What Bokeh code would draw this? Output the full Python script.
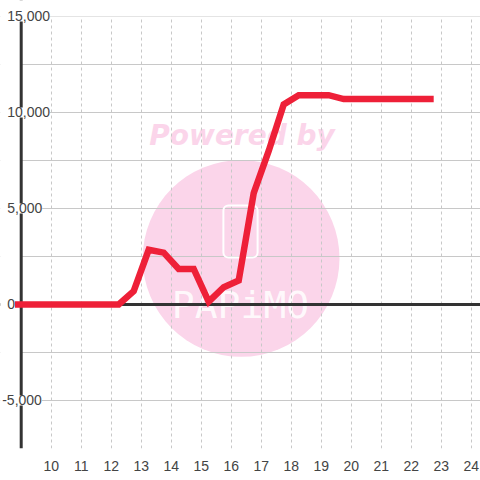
from bokeh.plotting import figure
from bokeh.models import Range1d, FixedTicker, Span, Label, BoxAnnotation
from bokeh.embed import file_html
from bokeh.resources import INLINE

# ---- data ----
hours = [8.75, 9.25, 9.75, 10.25, 10.75, 11.25, 11.75, 12.25, 12.75, 13.25,
         13.75, 14.25, 14.75, 15.25, 15.75, 16.25, 16.75, 17.25, 17.75, 18.25,
         18.75, 19.25, 19.75, 20.25, 20.75, 21.25, 21.75, 22.25, 22.75]
power = [0, 0, 0, 0, 0, 0, 0, 0, 700, 2850,
         2700, 1850, 1850, 150, 900, 1250, 5800, 8000, 10420, 10900,
         10900, 10900, 10700, 10700, 10700, 10700, 10700, 10700, 10700]
x_ticks = list(range(10, 25))
y_label_values = [15000, 10000, 5000, 0, -5000]
y_label_texts = ["15,000", "10,000", "5,000", "0", "-5,000"]
y_grid_values = [15000, 12500, 10000, 7500, 5000, 2500, 0, -2500, -5000, -7500]
x_axis_at = 9
y_top = 15000

p = figure(width=480, height=480, output_backend="svg", toolbar_location=None,
           x_range=Range1d(8.31, 24.31), y_range=Range1d(-7500, 15833),
           y_axis_location=None,
           min_border_left=0, min_border_right=0, min_border_top=0, min_border_bottom=32)
p.outline_line_color = None
p.background_fill_color = "white"
p.border_fill_color = "white"

# x axis
p.xaxis.ticker = FixedTicker(ticks=x_ticks)
p.xaxis.axis_line_color = None
p.xaxis.major_tick_line_color = None
p.xaxis.minor_tick_line_color = None
p.xaxis.major_label_text_font = "Liberation Sans"
p.xaxis.major_label_text_font_size = "14px"
p.xaxis.major_label_text_color = "#444444"
p.xaxis.major_label_standoff = 6

# grids
p.xgrid.ticker = FixedTicker(ticks=x_ticks)
p.xgrid.grid_line_color = "#c8c8c8"
p.xgrid.grid_line_dash = "3 3"
p.ygrid.ticker = FixedTicker(ticks=y_grid_values)
p.ygrid.grid_line_color = "#c8c8c8"

# watermark
p.circle(x=[16.33], y=[2400], radius=3.28, radius_dimension="x",
         fill_color="#fbd5ea", line_color=None, level="image")
p.add_layout(Label(x=16.36, y=8800, text="Powered by", text_font="DejaVu Sans",
                   text_font_style="bold italic", text_font_size="28px",
                   text_color="#fbd5ea", text_align="center", text_baseline="middle",
                   level="image"))
p.add_layout(Label(x=16.31, y=-50, text="PAPiMO", text_font="DejaVu Sans Mono",
                   text_font_size="38px", text_color="white", text_alpha=0.85,
                   text_align="center", text_baseline="alphabetic", level="image"))
p.add_layout(BoxAnnotation(left=15.74, right=16.88, top=5156, bottom=2448,
                           fill_color=None, fill_alpha=0, line_color="white",
                           line_alpha=1, line_width=2, border_radius=5,
                           level="underlay"))

# zero line
p.add_layout(Span(location=0, dimension="width", line_color="#333333",
                  line_width=3, level="underlay"))
# blank area left of the axis
p.add_layout(BoxAnnotation(right=x_axis_at, fill_color="white", fill_alpha=1,
                           line_color=None, level="underlay"))
# left axis line
p.add_layout(Span(location=x_axis_at, dimension="height", line_color="#333333",
                  line_width=3, level="underlay"))
# blank area above the top gridline
p.add_layout(BoxAnnotation(bottom=y_top, fill_color="white", fill_alpha=1,
                           line_color=None, level="underlay"))

# data line
p.line(hours, power, line_color="#ee2038", line_width=6.5, line_join="miter")

# y tick labels
for yv, txt in zip(y_label_values, y_label_texts):
    p.add_layout(Label(x=x_axis_at, y=yv, text=txt,
                       x_offset=-19 if txt.startswith("-") else -14,
                       text_align="left", text_baseline="middle",
                       text_font="Liberation Sans", text_font_size="14px",
                       text_color="#444444", background_fill_color="white",
                       level="overlay"))

open("out.html", "w").write(file_html(p, INLINE))
